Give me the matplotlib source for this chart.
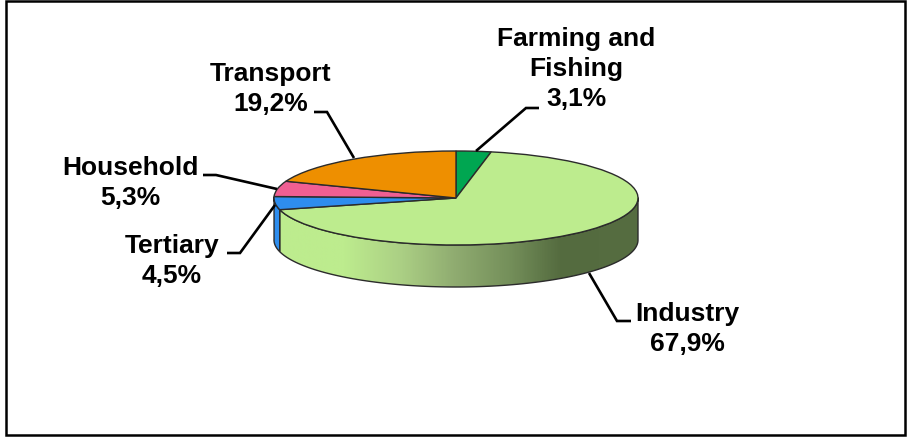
import numpy as np
import matplotlib
matplotlib.use("Agg")
import matplotlib.pyplot as plt
from matplotlib.colors import LinearSegmentedColormap
from matplotlib.patches import Polygon, Rectangle

categories = ["Farming and\nFishing", "Industry", "Tertiary", "Household", "Transport"]
values = [3.1, 67.9, 4.5, 5.3, 19.2]
colors = ["#00A651", "#BDEC8E", "#2E8DEE", "#F05F92", "#EE8F00"]
label_px = [(576, 69), (687, 329), (172, 261), (130, 183), (271, 89)]
leaders_px = [
    [(476, 151), (526, 108), (539, 108)],
    [(589, 273), (617, 321), (631, 321)],
    [(275, 205), (240, 253), (227, 253)],
    [(277, 189), (216, 175), (203, 175)],
    [(354, 158), (327, 112), (314, 112)],
]

W, H = 907, 437
CX, CY, RX, RY, DEPTH = 456, 198, 182, 47, 42
EDGE = "#2b2b2b"

plt.rcParams["font.family"] = ["Liberation Sans", "DejaVu Sans"]
fig = plt.figure(figsize=(W / 100, H / 100), dpi=100, facecolor="white")

ax = fig.add_axes([0, 0, 1, 1])
ax.pie(values, colors=colors, startangle=90, counterclock=False, radius=1,
       wedgeprops=dict(edgecolor=EDGE, linewidth=1.0, zorder=5))
ax.set_aspect("auto")
d = DEPTH / RY


def side(start_pct, end_pct):
    a = np.radians(np.linspace(start_pct, end_pct, 160) * 3.6)
    x, y = np.sin(a), np.cos(a)
    keep = y <= 0.02
    x, y = x[keep], y[keep]
    return np.r_[np.c_[x, y], np.c_[x, y - d][::-1]]


cum = np.cumsum(values)
band = side(cum[0], cum[1])
cmap = LinearSegmentedColormap.from_list(
    "g", [(0, "#BDEC8E"), (0.19, "#BDEC8E"), (0.35, "#ABCF84"), (0.50, "#8FAB70"),
          (0.65, "#748F5A"), (0.79, "#546B3F"), (1, "#566D41")])
grad = np.linspace(0, 1, 400).reshape(1, -1)
im = ax.imshow(grad, cmap=cmap, aspect="auto", extent=(-1, 1, -1 - d, 1), zorder=2)
poly = Polygon(band, closed=True, facecolor="none", edgecolor=EDGE, linewidth=1.0, zorder=3)
ax.add_patch(poly)
im.set_clip_path(poly)
ax.add_patch(Polygon(side(cum[1], cum[2]), closed=True, facecolor=colors[2],
                     edgecolor=EDGE, linewidth=1.0, zorder=3))
ax.set_xlim(-CX / RX, (W - CX) / RX)
ax.set_ylim(-(H - CY) / RY, CY / RY)
ax.set_aspect("auto")
ax.axis("off")

top = fig.add_axes([0, 0, 1, 1], facecolor="none")
top.set_xlim(0, W)
top.set_ylim(H, 0)
top.axis("off")
for name, v, (tx, ty), pts in zip(categories, values, label_px, leaders_px):
    xs, ys = zip(*pts)
    top.plot(xs, ys, color="black", lw=1.9, solid_joinstyle="miter", solid_capstyle="butt")
    top.text(tx, ty, f"{name}\n{v:.1f}%".replace(".", ","), ha="center", va="center",
             fontsize=19, fontweight="bold", color="black", linespacing=1.33)
top.add_patch(Rectangle((6, 1), 899, 434, fill=False, edgecolor="black", lw=1.8))

fig.savefig("out.png", dpi=100, facecolor="white")
